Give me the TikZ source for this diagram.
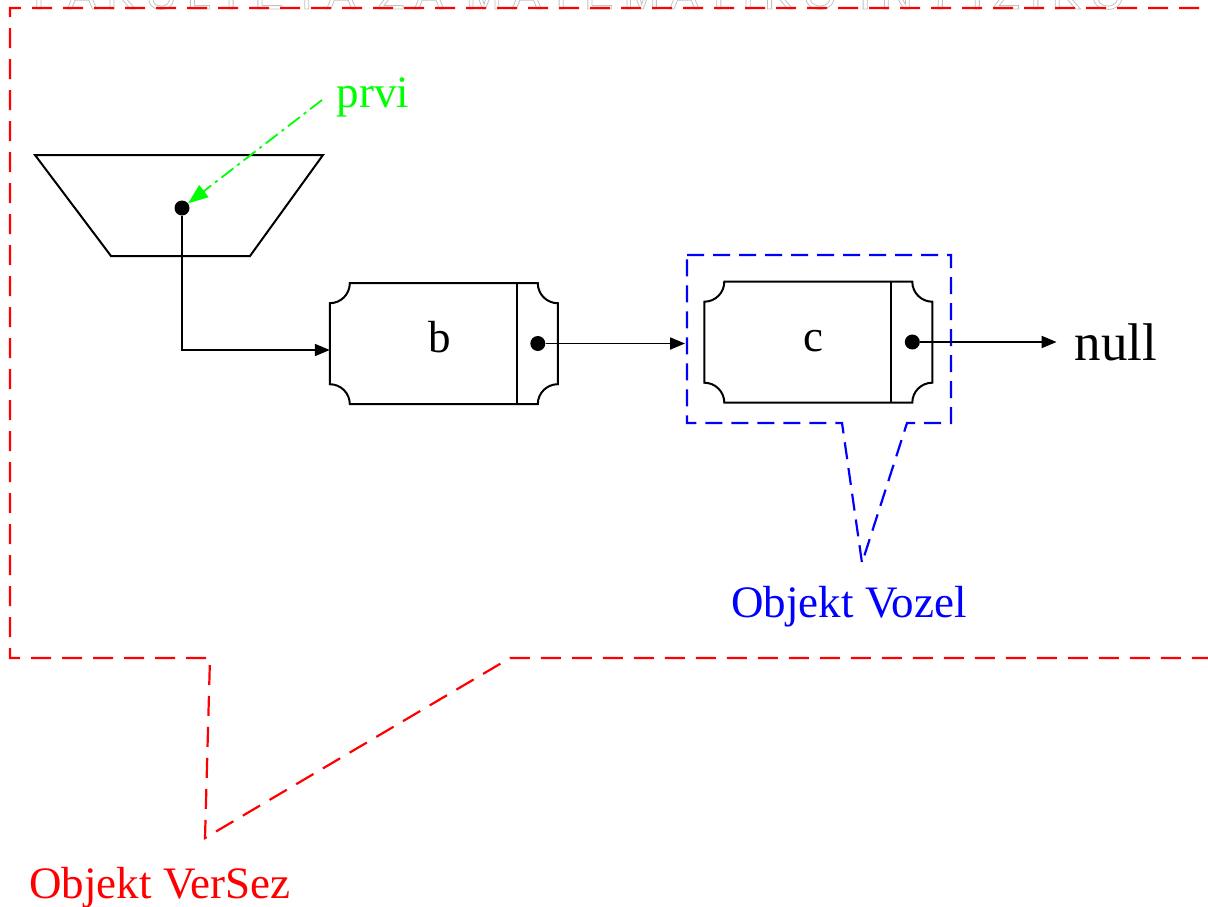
\documentclass[tikz,border=0pt]{standalone}
\usepackage{fontspec}
\setmainfont{Liberation Serif}
\newfontfamily\wmfont{Liberation Sans}
\usetikzlibrary{arrows.meta}
\definecolor{vred}{RGB}{255,0,0}
\definecolor{vblue}{RGB}{0,0,255}
\definecolor{vgreen}{RGB}{0,255,0}
\definecolor{wmgray}{RGB}{195,195,195}
\tikzset{
  ptr/.style={line width=1.9pt, -{Triangle[length=15pt,width=12pt]}},
  ptrdot/.style={circle, fill=black, inner sep=0pt, minimum size=15pt},
  cellframe/.style={draw=none, minimum width=228pt, minimum height=121pt, inner sep=0pt},
  lbl/.style={font=\fontsize{45}{50}\selectfont, inner sep=0pt},
  callred/.style={draw=vred, line width=2.2pt, dash pattern=on 20pt off 11pt},
  callblue/.style={draw=vblue, line width=2.2pt, dash pattern=on 17pt off 9pt},
  greenptr/.style={draw=vgreen, line width=1.8pt, dash pattern=on 15pt off 5pt on 3pt off 5pt,
    -{Triangle[length=20pt,width=15pt]}},
  listcell/.pic={
    \draw[line width=2pt] (20,0) -- (208,0) arc[start angle=180, end angle=90, radius=20]
      -- (228,101) arc[start angle=270, end angle=180, radius=20]
      -- (20,121) arc[start angle=0, end angle=-90, radius=20]
      -- (0,20) arc[start angle=90, end angle=0, radius=20] -- cycle;
    \draw[line width=2pt] (187,0) -- (187,121);
  }
}
\begin{document}
\begin{tikzpicture}[x=1pt, y=1pt, yscale=-1]
  \useasboundingbox (0,0) rectangle (1208,906);
  \fill[white] (0,0) rectangle (1208,906);

  % watermark (cut off at top)
  \node[anchor=base east, inner sep=0pt, font=\wmfont\fontsize{44}{44}\selectfont, text=wmgray] (wm) at (1125,9)
    {\special{pdf:literal direct 1 Tr 0.8 w}\addfontfeature{LetterSpace=22}FAKULTETA ZA MATEMATIKO IN FIZIKO\special{pdf:literal direct 0 Tr}};

  % red callout
  \draw[callred] (1230,8) -- (10,8) -- (10,658) -- (210,658) -- (205,838) -- (510,658) -- (1230,658);
  \node[lbl, text=vred, anchor=base] (versez) at (160,898) {Objekt VerSez};

  % blue callout
  \draw[callblue] (687,255) -- (951,255) -- (951,423) -- (907,423) -- (862,563) -- (842,423) -- (687,423) -- cycle;
  \node[lbl, text=vblue, anchor=base] (vozel) at (849,617) {Objekt Vozel};

  % head (trapezoid)
  \draw[line width=2pt] (35,155) -- (323,155) -- (250,256) -- (111,256) -- cycle;
  \node[ptrdot] (pdot) at (182,208) {};

  % cells
  \node[cellframe] (bcell) at (444,343.5) {};
  \pic at (bcell.south west) {listcell};
  \node[lbl, anchor=base] (blabel) at (440,352) {b};
  \node[ptrdot] (bdot) at ([xshift=208pt]bcell.west) {};

  \node[cellframe] (ccell) at (818.5,342) {};
  \pic at (ccell.south west) {listcell};
  \node[lbl, anchor=base] (clabel) at (813,351) {c};
  \node[ptrdot] (cdot) at ([xshift=208pt]ccell.west) {};

  \node[font=\fontsize{53}{60}\selectfont, inner sep=0pt, anchor=base] (null) at (1116,360) {null};

  % pointers
  \coordinate (vin) at (685,343);
  \draw[ptr] (pdot) |- ([yshift=6.5pt]bcell.west);
  \draw[ptr] (bdot) -- (bdot -| vin);
  \draw[ptr, shorten >=18pt] (cdot) -- (cdot -| null.west);

  % prvi
  \node[lbl, text=vgreen, anchor=base] (prvi) at (373,107) {prvi};
  \coordinate (pstart) at (322,100);
  \draw[greenptr] (pstart) -- (pdot);
\end{tikzpicture}
\end{document}
